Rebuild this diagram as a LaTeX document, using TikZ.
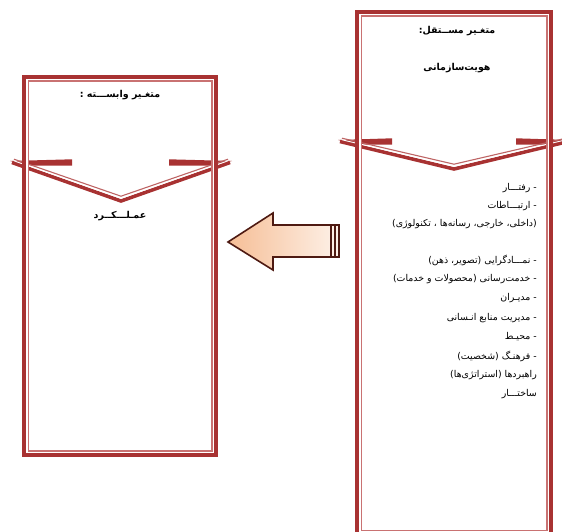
\documentclass[tikz,border=0pt]{standalone}
\usepackage{fontspec}
\TeXXeTstate=1
\newfontfamily\arabicfont[Script=Arabic]{DejaVu Sans}
\definecolor{boxred}{HTML}{A83232}
\definecolor{boxlight}{HTML}{C97272}
\definecolor{arrowline}{HTML}{4E1A12}
\definecolor{peach}{HTML}{F6BE96}
\definecolor{peachlight}{HTML}{FDF1E8}
\tikzset{
  outerline/.style={draw=boxred,line width=3.7pt},
  gapline/.style={draw=white,line width=1.7pt},
  innerline/.style={draw=boxlight,line width=1.3pt},
  ttl/.style={font=\arabicfont\bfseries\fontsize{9.5}{11}\selectfont,inner sep=0pt},
  itm/.style={font=\arabicfont\fontsize{9.4}{11}\selectfont,inner sep=0pt,anchor=east},
}
\newcommand{\rtl}[1]{\beginR #1\endR}
\begin{document}
\begin{tikzpicture}[x=1pt,y=-1pt]
\useasboundingbox (0,0) rectangle (562,532);

% ---------- left chevron ----------
\fill[boxred] (10,161) -- (72,159.3) -- (72,165.7) -- (32,165.7) -- cycle;
\fill[boxred] (232,161) -- (169,159.3) -- (169,165.7) -- (209,165.7) -- cycle;
\draw[boxred,line width=3.6pt,line join=miter] (12,162.5) -- (121,201) -- (230,162.5);
\draw[boxred!75,line width=1.1pt] (14,159.2) -- (121,196.2) -- (228,159.2);
\draw[white,line width=0.9pt] (14,160.8) -- (121,198.3) -- (228,160.8);

% ---------- right chevron ----------
\fill[boxred] (338,140) -- (392,138.3) -- (392,144.7) -- (358,144.7) -- cycle;
\fill[boxred] (570,140) -- (516,138.3) -- (516,144.7) -- (550,144.7) -- cycle;
\draw[boxred,line width=3.6pt,line join=miter] (340,141.5) -- (454,169) -- (568,141.5);
\draw[boxred!75,line width=1.1pt] (342,138.2) -- (454,164.2) -- (566,138.2);
\draw[white,line width=0.9pt] (342,139.8) -- (454,166.3) -- (566,139.8);

% ---------- left box ----------
\draw[outerline] (24.2,76.9) rectangle (216.1,455.1);
\draw[gapline]   (26.85,79.55) rectangle (213.45,452.45);
\draw[innerline] (28.35,81.05) rectangle (211.95,450.95);

% ---------- right box ----------
\draw[outerline] (357.1,11.9) rectangle (551.1,536);
\draw[gapline]   (359.75,14.55) rectangle (548.45,533.3);
\draw[innerline] (361.25,16.05) rectangle (546.95,530.3);

% ---------- arrow ----------
\path[left color=peach,right color=peachlight,draw=arrowline,line width=1.6pt,line join=miter]
  (228,242) -- (273,213) -- (273,225) -- (339,225) -- (339,257) -- (273,257) -- (273,270) -- cycle;
\draw[arrowline,line width=1.1pt] (331,225) -- (331,257);
\draw[arrowline,line width=1.1pt] (335,225) -- (335,257);

% ---------- texts ----------
\node[ttl] (lt) at (120,95) {\rtl{متغـیر وابســـته :}};
\node[ttl] (lp) at (120,216) {\rtl{عمـلـــکــرد}};
\node[ttl] (rt) at (457,31) {\rtl{متغـیر مســتقل:}};
\node[ttl] (ri) at (457,68) {\rtl{هویت‌سازمانی}};

\node[itm] (i1)  at (537,188) {\rtl{- رفتـــار}};
\node[itm] (i2)  at (537,206) {\rtl{- ارتبـــاطات}};
\node[itm] (i3)  at (537,224) {\rtl{(داخلی، خارجی، رسانه‌ها ، تکنولوژی)}};
\node[itm] (i4)  at (537,260) {\rtl{- نمـــادگرایی (تصویر، ذهن)}};
\node[itm] (i5)  at (537,279) {\rtl{- خدمت‌رسانی (محصولات و خدمات)}};
\node[itm] (i6)  at (537,298) {\rtl{- مدیـران}};
\node[itm] (i7)  at (537,318) {\rtl{- مدیریت منابع انـسانی}};
\node[itm] (i8)  at (537,337) {\rtl{- محیـط}};
\node[itm] (i9)  at (537,356) {\rtl{- فرهنـگ (شخصیت)}};
\node[itm] (i10) at (537,375) {\rtl{راهبردها (استراتژی‌ها)}};
\node[itm] (i11) at (537,394) {\rtl{ساختـــار}};
\end{tikzpicture}
\end{document}
